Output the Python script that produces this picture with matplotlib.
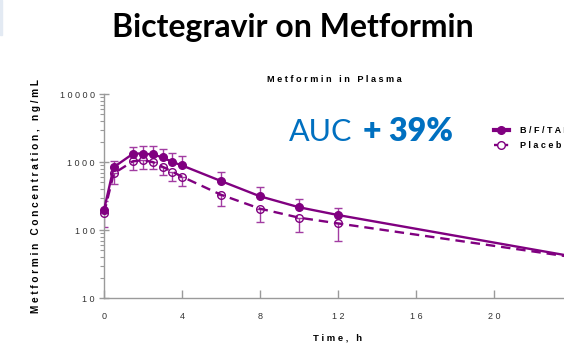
import matplotlib

matplotlib.use("Agg")
import matplotlib.pyplot as plt
from matplotlib.lines import Line2D
from matplotlib.patches import Rectangle
import numpy as np

# --------------------------------------------------
# metformin concentrations (ng/mL) vs time (h)
# --------------------------------------------------
time_h = [0, 0.5, 1.5, 2, 2.5, 3, 3.5, 4, 6, 8, 10, 12, 24]

bftaf_mean = [197, 840, 1330, 1330, 1290, 1170, 1000, 890, 525, 313, 216, 166, 41]
bftaf_upper = [270, 1045, 1680, 1720, 1720, 1540, 1340, 1240, 720, 433, 286, 209, 41]

placebo_mean = [176, 680, 1030, 1060, 1000, 853, 720, 608, 330, 206, 152, 125, 40]
placebo_lower = [112, 475, 763, 790, 790, 643, 530, 444, 228, 133, 94, 70, 40]

x_ticks = [0, 4, 8, 12, 16, 20]
y_ticks = [10, 100, 1000, 10000]

PURPLE = "#800080"
BAR_PURPLE = "#A23CA2"
BLUE = "#0070C0"
AXIS_GREY = "#9A9A9A"


def spaced(s):
    # wide letter spacing of the original slide graphics
    return " ".join(s)


bftaf_mean = np.array(bftaf_mean, float)
placebo_mean = np.array(placebo_mean, float)
bftaf_err = [np.zeros_like(bftaf_mean), np.array(bftaf_upper) - bftaf_mean]
placebo_err = [placebo_mean - np.array(placebo_lower), np.zeros_like(placebo_mean)]

fig = plt.figure(figsize=(5.64, 3.46), dpi=100)
ax = fig.add_axes([104 / 564, 48 / 346, 468 / 564, 204 / 346])

# error bars (upward for B/F/TAF, downward for placebo)
ax.errorbar(time_h, bftaf_mean, yerr=bftaf_err, fmt="none", ecolor=BAR_PURPLE,
            elinewidth=1.0, capsize=3, capthick=1.0, zorder=2)
ax.errorbar(time_h, placebo_mean, yerr=placebo_err, fmt="none", ecolor=BAR_PURPLE,
            elinewidth=1.0, capsize=3, capthick=1.0, zorder=2)

ax.plot(time_h, bftaf_mean, "-", color=PURPLE, lw=1.7, marker="o", ms=5.5,
        mfc=PURPLE, mec=PURPLE, zorder=4, clip_on=False)
ax.plot(time_h, placebo_mean, "--", color=PURPLE, lw=1.7, dashes=(4, 2.5),
        marker="o", ms=5.5, mfc="none", mec=PURPLE, mew=1.0, zorder=3,
        clip_on=False)

ax.set_yscale("log")
ax.set_ylim(10, 10000)
ax.set_xlim(0, 24)
ax.set_xticks(x_ticks)
ax.set_xticklabels([spaced(str(v)) for v in x_ticks])
ax.set_yticks(y_ticks)
ax.set_yticklabels([spaced(str(v)) for v in y_ticks])
ax.yaxis.set_minor_locator(matplotlib.ticker.LogLocator(base=10, subs=np.arange(2, 10)))
ax.yaxis.set_minor_formatter(matplotlib.ticker.NullFormatter())

for side in ("top", "right"):
    ax.spines[side].set_visible(False)
for side in ("left", "bottom"):
    ax.spines[side].set_color(AXIS_GREY)
    ax.spines[side].set_linewidth(1.0)

ax.tick_params(axis="x", direction="in", length=6, width=1.0, color=AXIS_GREY,
               labelsize=6.5, labelcolor="#333333", pad=10)
ax.tick_params(axis="y", which="major", direction="inout", length=7, width=1.0,
               color=AXIS_GREY, labelsize=6.5, labelcolor="#333333", pad=3)
ax.tick_params(axis="y", which="minor", direction="out", length=3, width=0.8,
               color=AXIS_GREY)
for lab in ax.get_xticklabels() + ax.get_yticklabels():
    lab.set_family("Liberation Sans")

ax.set_xlabel(spaced("Time, h"), fontsize=6.8, fontweight="bold",
              family="Liberation Sans")
ax.xaxis.set_label_coords((338 - 104) / 468, -(334 - 298) / 204)
ax.set_ylabel(spaced("Metformin Concentration, ng/mL"), fontsize=7.2,
              fontweight="bold", family="Liberation Sans")
ax.yaxis.set_label_coords(-(104 - 41) / 468, 0.5)

# titles
fig.text(293 / 564, 1 - 28 / 346, "Bictegravir on Metformin", ha="center",
         va="center", fontsize=23, fontweight="bold", family="Lato")
fig.text(267 / 564, 1 - 80 / 346, spaced("Metformin in Plasma"), ha="left",
         va="center", fontsize=6.6, fontweight="bold", family="Liberation Sans")

# AUC annotation
fig.text(289 / 564, 1 - 132 / 346, "AUC", ha="left", va="center", fontsize=22,
         color=BLUE, family="Lato")
fig.text(363 / 564, 1 - 132 / 346, "+ 39%", ha="left", va="center", fontsize=23,
         color=BLUE, fontweight="heavy", family="Lato")

# legend
handles = [
    Line2D([], [], color=PURPLE, lw=3, marker="o", ms=5.5, mfc=PURPLE),
    Line2D([], [], color=PURPLE, lw=1.7, ls="--", dashes=(2, 2), marker="o",
           ms=5.5, mfc="white", mec=PURPLE),
]
fig.legend(handles, [spaced("B/F/TAF"), spaced("Placebo")], loc="upper left",
           bbox_to_anchor=(486 / 564, 1 - 118 / 346), frameon=False,
           handlelength=1.6, handletextpad=1.3, labelspacing=0.7,
           prop={"size": 6.5, "weight": "bold", "family": "Liberation Sans"})

# light slide edge at the top left
fig.patches.append(Rectangle((0, 1 - 35 / 346), 2 / 564, 35 / 346,
                             transform=fig.transFigure, color="#E3EAF3"))

fig.savefig("out.png", dpi=100)
